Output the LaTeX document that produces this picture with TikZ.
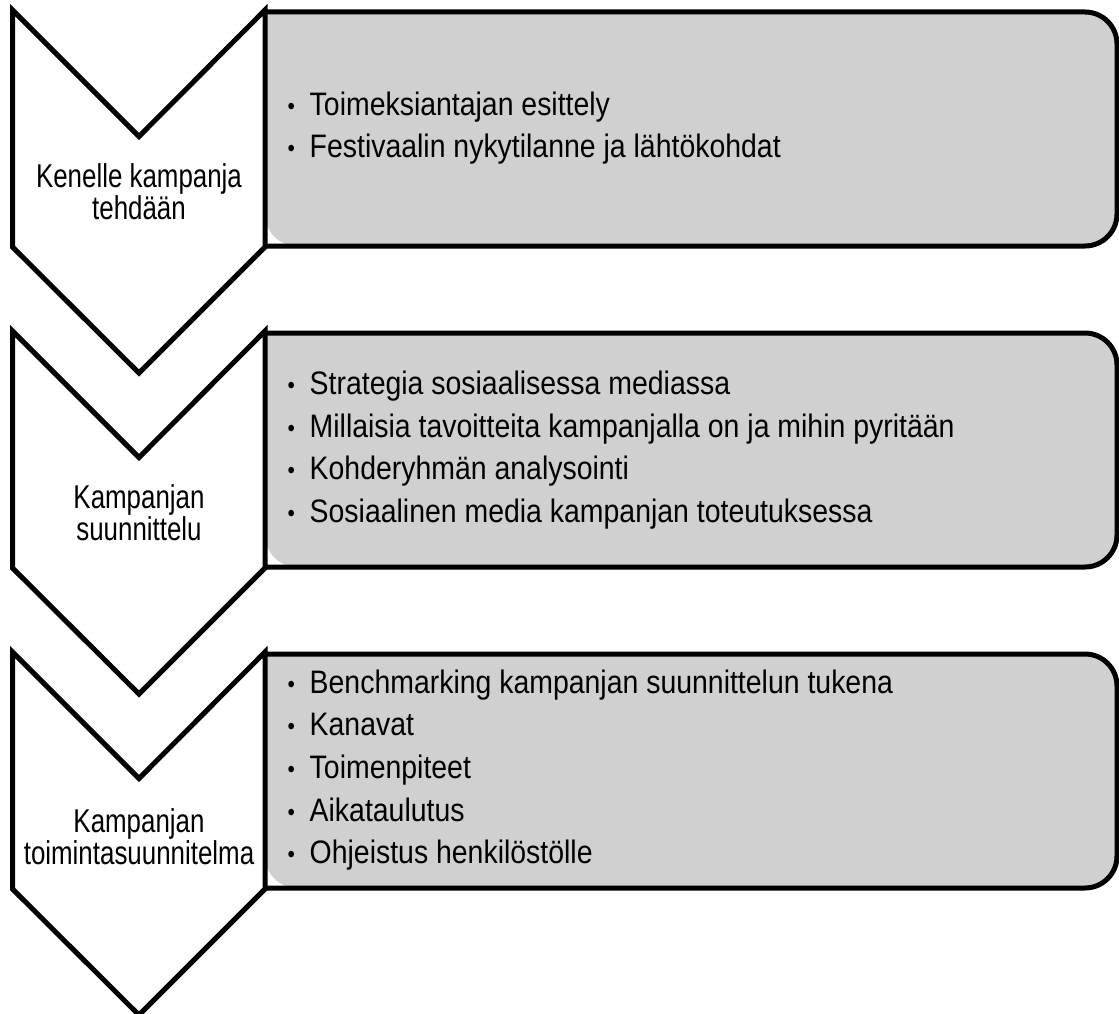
\documentclass[tikz,border=0pt]{standalone}
\usepackage{fontspec}
\setmainfont{Liberation Sans}[FakeStretch=0.785]
\newfontfamily\listfont{Liberation Sans}[FakeStretch=0.875]
\definecolor{boxgray}{RGB}{208,208,208}
\newcommand{\smbullet}{\makebox[23.5pt][l]{\hspace{1.5pt}\fontsize{24}{24}\selectfont\raisebox{1pt}{\textbullet}}}
\tikzset{
  chevron/.style={draw=black, fill=white, line width=5pt, line join=miter},
  boxfill/.style={fill=boxgray},
  boxline/.style={draw=black, line width=5pt, rounded corners=32pt},
  chevtext/.style={align=center, inner sep=0pt, font=\fontsize{33}{29.5}\selectfont},
  listtext/.style={anchor=west, inner sep=0pt, font=\listfont\fontsize{32.5}{42.7}\selectfont},
}
\begin{document}
\begin{tikzpicture}[x=1pt,y=-1pt]
\useasboundingbox (0,0) rectangle (1119,1014);
% step offsets: 10, 331, 652
\foreach \t in {10,331,652}{
  \fill[boxfill, rounded corners=32pt] (265,\t+2) -- (1117,\t+2) -- (1117,\t+236) -- (265,\t+236) [sharp corners] -- cycle;
  \draw[boxline] (265,\t+2) -- (1117,\t+2) -- (1117,\t+236) -- (265,\t+236);
  \draw[chevron] (12.5,\t) -- (139,\t+126.5) -- (265,\t) -- (265,\t+237) -- (139,\t+363) -- (12.5,\t+237) -- cycle;
}
\node[chevtext] (c1) at (139,192) {Kenelle kampanja\\tehdään};
\node[chevtext] (c2) at (139,513) {Kampanjan\\suunnittelu};
\node[chevtext] (c3) at (139,837) {Kampanjan\\toimintasuunnitelma};
\node[listtext] (l1) at (286,128) {\begin{tabular}{@{}l@{}l@{}}
\smbullet & Toimeksiantajan esittely\\
\smbullet & Festivaalin nykytilanne ja lähtökohdat
\end{tabular}};
\node[listtext] (l2) at (286,450) {\begin{tabular}{@{}l@{}l@{}}
\smbullet & Strategia sosiaalisessa mediassa\\
\smbullet & Millaisia tavoitteita kampanjalla on ja mihin pyritään\\
\smbullet & Kohderyhmän analysointi\\
\smbullet & Sosiaalinen media kampanjan toteutuksessa
\end{tabular}};
\node[listtext] (l3) at (286,770) {\begin{tabular}{@{}l@{}l@{}}
\smbullet & Benchmarking kampanjan suunnittelun tukena\\
\smbullet & Kanavat\\
\smbullet & Toimenpiteet\\
\smbullet & Aikataulutus\\
\smbullet & Ohjeistus henkilöstölle
\end{tabular}};
\end{tikzpicture}
\end{document}
